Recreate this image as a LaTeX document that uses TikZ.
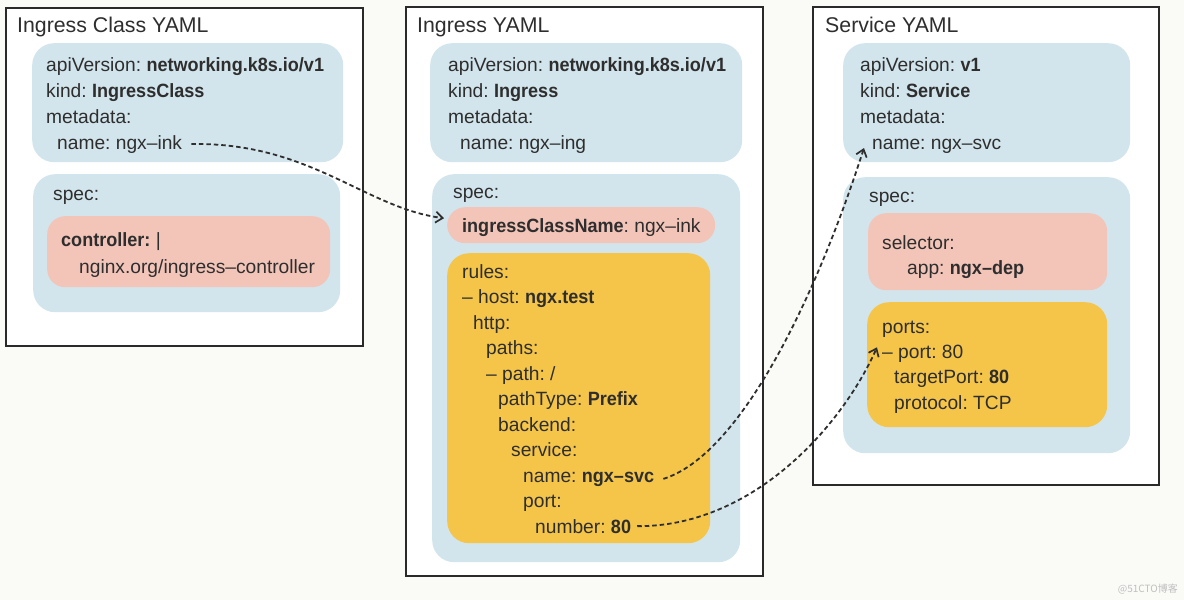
\documentclass[tikz,border=0pt]{standalone}
\usepackage{fontspec}
\setmainfont{Liberation Sans}[BoldFeatures={FakeStretch=0.94}]
\newfontfamily\cjk{Noto Sans CJK SC}
\usetikzlibrary{arrows.meta}
\definecolor{bgc}{HTML}{FAFAF7}
\definecolor{lblue}{HTML}{D2E5EC}
\definecolor{lpink}{HTML}{F3C4B8}
\definecolor{lyel}{HTML}{F5C549}
\definecolor{ink}{HTML}{2E2E2E}
\definecolor{framec}{HTML}{2A2A2A}
\tikzset{
  x=1pt, y=-1pt,
  frame/.style={draw=framec, line width=2.2pt, fill=white, anchor=north west, inner sep=0pt},
  bluebox/.style={fill=lblue, rounded corners=22pt, anchor=north west, inner sep=0pt},
  pinkbox/.style={fill=lpink, rounded corners=18pt, anchor=north west, inner sep=0pt},
  yelbox/.style={fill=lyel, rounded corners=22pt, anchor=north west, inner sep=0pt},
  title/.style={anchor=base west, inner sep=0pt, text=ink, font=\fontsize{21.3}{24}\selectfont},
  txt/.style={anchor=base west, inner sep=0pt, text=ink, font=\fontsize{19.2}{22}\selectfont},
  conn/.style={draw=ink, line width=1.8pt, dash pattern=on 4.5pt off 3pt, -{Straight Barb[length=7pt,width=11pt,line width=1.7pt]}},
}
\frenchspacing
\begin{document}
\begin{tikzpicture}
\useasboundingbox (0,0) rectangle (1184,600);
\fill[bgc] (0,0) rectangle (1184,600);

% ---------- frame 1: Ingress Class ----------
\node[frame, minimum width=357pt, minimum height=338pt] (f1) at (5,7) {};
\node[title] (t1) at (17,32) {Ingress Class YAML};
\node[bluebox, minimum width=311pt, minimum height=119pt] (b1a) at (32,43) {};
\node[txt] (a1) at (46,71) {apiVersion: \textbf{networking.k8s.io/v1}};
\node[txt] (a2) at (46,97) {kind: \textbf{IngressClass}};
\node[txt] (a3) at (46,123) {metadata:};
\node[txt] (inkname) at (57,149) {name: ngx–ink};
\node[bluebox, minimum width=307pt, minimum height=138pt] (b1b) at (33,174) {};
\node[txt] (a5) at (53,200) {spec:};
\node[pinkbox, minimum width=283pt, minimum height=71pt] (p1) at (47,216) {};
\node[txt] (a6) at (61,246) {\textbf{controller:} |};
\node[txt] (a7) at (79,273) {nginx.org/ingress–controller};

% ---------- frame 2: Ingress ----------
\node[frame, minimum width=357pt, minimum height=569pt] (f2) at (405,6) {};
\node[title] (t2) at (417,32) {Ingress YAML};
\node[bluebox, minimum width=312pt, minimum height=119pt] (b2a) at (430,43) {};
\node[txt] (c1) at (448,71) {apiVersion: \textbf{networking.k8s.io/v1}};
\node[txt] (c2) at (448,97) {kind: \textbf{Ingress}};
\node[txt] (c3) at (448,123) {metadata:};
\node[txt] (c4) at (460,149) {name: ngx–ing};
\node[bluebox, minimum width=308pt, minimum height=388pt] (b2b) at (432,174) {};
\node[txt] (c5) at (453,198) {spec:};
\node[pinkbox, minimum width=268pt, minimum height=36pt] (icn) at (447,207) {};
\node[txt] (c6) at (462,232) {\textbf{ingressClassName}: ngx–ink};
\node[yelbox, minimum width=263pt, minimum height=290pt] (y2) at (447,253) {};
\node[txt] (r1) at (462,278) {rules:};
\node[txt] (r2) at (462,303.5) {– host: \textbf{ngx.test}};
\node[txt] (r3) at (473,329) {http:};
\node[txt] (r4) at (486,354.5) {paths:};
\node[txt] (r5) at (486,380) {– path: /};
\node[txt] (r6) at (498,405.5) {pathType: \textbf{Prefix}};
\node[txt] (r7) at (498,431) {backend:};
\node[txt] (r8) at (511,456.5) {service:};
\node[txt] (svcref) at (523,482) {name: \textbf{ngx–svc}};
\node[txt] (r10) at (523,507.5) {port:};
\node[txt] (numref) at (535,533) {number: \textbf{80}};

% ---------- frame 3: Service ----------
\node[frame, minimum width=346pt, minimum height=478pt] (f3) at (812,6) {};
\node[title] (t3) at (825,32) {Service YAML};
\node[bluebox, minimum width=287pt, minimum height=119pt] (b3a) at (843,43) {};
\node[txt] (s1) at (860,71) {apiVersion: \textbf{v1}};
\node[txt] (s2) at (860,97) {kind: \textbf{Service}};
\node[txt] (s3) at (860,123) {metadata:};
\node[txt] (svcname) at (872,149) {name: ngx–svc};
\node[bluebox, minimum width=287pt, minimum height=276pt] (b3b) at (843,177) {};
\node[txt] (s5) at (869,202) {spec:};
\node[pinkbox, minimum width=239pt, minimum height=77pt] (p3) at (868,213) {};
\node[txt] (s6) at (882,249) {selector:};
\node[txt] (s7) at (907,274) {app: \textbf{ngx–dep}};
\node[yelbox, minimum width=240pt, minimum height=125pt] (y3) at (867,302) {};
\node[txt] (s8) at (882,333) {ports:};
\node[txt] (portline) at (882,358) {– port: 80};
\node[txt] (s10) at (894,383.5) {targetPort: \textbf{80}};
\node[txt] (s11) at (894,409) {protocol: TCP};

% ---------- connectors ----------
\coordinate (e1s) at ([xshift=9pt]inkname.east);
\coordinate (e1e) at ([xshift=-3pt,yshift=7pt]icn.west);
\draw[conn] (e1s) .. controls (310,142) and (365,208) .. (e1e);

\coordinate (e2s) at ([xshift=9pt]svcref.east);
\coordinate (e2e) at ([xshift=-8pt,yshift=1pt]svcname.base west);
\draw[conn] (e2s) .. controls (740,455) and (815,300) .. (e2e);

\coordinate (e3s) at ([xshift=6pt]numref.east);
\coordinate (e3e) at ([xshift=-5pt,yshift=6pt]portline.west);
\draw[conn] (e3s) .. controls (750,527) and (840,430) .. (e3e);

% ---------- watermark ----------
\node[anchor=base east, inner sep=0pt, text=black!25, font=\cjk\fontsize{10}{12}\selectfont] (wm) at (1178,592) {@51CTO博客};
\end{tikzpicture}
\end{document}
